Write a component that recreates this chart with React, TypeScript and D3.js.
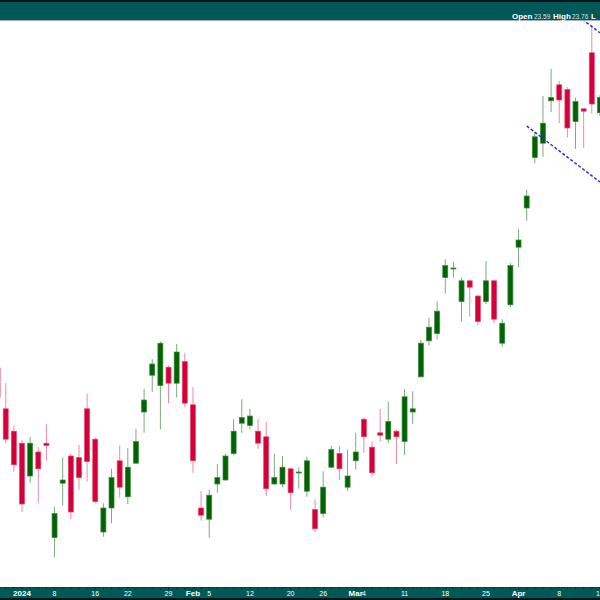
import React from "react";
import * as d3 from "d3";

const dates = [
  "2023-12-27","2023-12-28","2023-12-29",
  "2024-01-02","2024-01-03","2024-01-04","2024-01-05",
  "2024-01-08","2024-01-09","2024-01-10","2024-01-11","2024-01-12",
  "2024-01-16","2024-01-17","2024-01-18","2024-01-19",
  "2024-01-22","2024-01-23","2024-01-24","2024-01-25","2024-01-26",
  "2024-01-29","2024-01-30","2024-01-31","2024-02-01","2024-02-02",
  "2024-02-05","2024-02-06","2024-02-07","2024-02-08","2024-02-09",
  "2024-02-12","2024-02-13","2024-02-14","2024-02-15","2024-02-16",
  "2024-02-20","2024-02-21","2024-02-22","2024-02-23",
  "2024-02-26","2024-02-27","2024-02-28","2024-02-29","2024-03-01",
  "2024-03-04","2024-03-05","2024-03-06","2024-03-07","2024-03-08",
  "2024-03-11","2024-03-12","2024-03-13","2024-03-14","2024-03-15",
  "2024-03-18","2024-03-19","2024-03-20","2024-03-21","2024-03-22",
  "2024-03-25","2024-03-26","2024-03-27","2024-03-28",
  "2024-04-01","2024-04-02","2024-04-03","2024-04-04","2024-04-05",
  "2024-04-08","2024-04-09","2024-04-10","2024-04-11","2024-04-12",
  "2024-04-15",
];

const opens = [
  19.50,18.99,18.71,
  18.56,18.15,18.45,18.56,
  17.38,18.06,18.40,18.38,18.99,
  18.61,17.45,17.75,18.34,
  17.89,18.31,18.95,19.41,19.28,
  19.51,19.31,19.58,19.04,17.75,
  17.61,18.05,18.10,18.43,18.81,
  18.78,18.71,18.64,18.05,18.05,
  18.24,18.19,17.96,17.73,
  17.68,18.26,18.43,18.01,18.34,
  18.86,18.51,18.69,18.61,18.71,
  18.58,18.95,19.39,19.84,19.93,
  20.63,20.74,20.33,20.59,20.40,
  20.33,20.59,19.81,20.29,
  21.01,21.50,22.13,22.31,22.84,
  23.04,22.98,22.58,22.74,23.44,
  22.69,
];

const highs = [
  19.58,19.31,18.78,
  18.60,18.64,18.51,18.80,
  17.76,18.38,18.43,18.54,19.18,
  18.63,17.81,18.24,18.53,
  18.50,18.74,19.24,19.61,19.83,
  19.53,19.80,19.69,19.26,17.96,
  17.98,18.30,18.43,18.86,19.11,
  18.99,18.86,18.83,18.43,18.40,
  18.25,18.26,18.39,17.86,
  18.21,18.53,18.53,18.48,18.69,
  18.88,18.58,18.99,19.08,18.73,
  19.24,19.21,19.85,20.13,20.33,
  20.86,20.83,20.63,20.60,20.41,
  20.84,20.60,20.11,20.81,
  21.24,21.73,22.44,22.90,23.24,
  23.09,23.01,22.88,22.74,23.79,
  22.91,
];

const lows = [
  19.08,18.56,18.20,
  17.70,18.06,17.81,18.34,
  17.14,17.78,17.61,17.98,18.08,
  17.81,17.39,17.56,17.88,
  17.80,18.30,18.69,19.20,18.73,
  19.06,19.13,19.01,18.19,17.59,
  17.38,17.94,18.09,18.41,18.69,
  18.73,18.49,17.90,18.04,18.01,
  17.73,17.99,17.89,17.45,
  17.63,18.25,18.10,17.96,18.23,
  18.44,18.14,18.58,18.56,18.30,
  18.41,18.80,19.38,19.78,19.86,
  20.43,20.63,20.08,20.14,20.03,
  20.30,20.06,19.76,20.26,
  20.76,21.34,22.06,22.14,22.70,
  22.56,22.38,22.24,22.25,22.68,
  22.65,
];

const closes = [
  19.13,18.61,18.29,
  17.80,18.56,18.24,18.53,
  17.68,18.10,17.70,18.13,18.33,
  17.83,17.75,18.13,18.01,
  18.26,18.58,19.10,19.55,19.81,
  19.31,19.70,19.06,18.34,17.66,
  17.91,18.13,18.40,18.71,18.88,
  18.90,18.56,17.99,18.13,18.26,
  17.94,18.20,18.34,17.49,
  18.01,18.48,18.24,18.15,18.45,
  18.64,18.19,18.66,18.83,18.64,
  19.14,18.99,19.81,20.01,20.21,
  20.78,20.75,20.59,20.51,20.08,
  20.59,20.11,20.06,20.78,
  21.10,21.65,22.39,22.56,22.88,
  22.85,22.50,22.83,22.71,22.80,
  22.88,
];

const tickDates = [
  "2024-01-02","2024-01-08","2024-01-16","2024-01-22","2024-01-29",
  "2024-02-01","2024-02-05","2024-02-12","2024-02-20","2024-02-26",
  "2024-03-01","2024-03-04","2024-03-11","2024-03-18","2024-03-25",
  "2024-04-01","2024-04-08","2024-04-15",
];
const tickLabels = [
  "2024","8","16","22","29",
  "Feb","5","12","20","26",
  "Mar","4","11","18","25",
  "Apr","8","15",
];
const boldLabels = ["2024","Feb","Mar","Apr"];

// trend channel lines: [date, price] endpoints
const channelLower = [["2024-04-02", 22.525], ["2024-04-15", 21.825]];
const channelUpper = [["2024-04-02", 24.39], ["2024-04-15", 23.69]];

const headerLabels = ["Open", "High", "L"];
const headerValues = ["23.59", "23.76", ""];

const W = 600;
const H = 600;
const TEAL = "#005858";

export default function App() {
  const x = d3
    .scalePoint<string>()
    .domain(dates)
    .range([-2.42, 599.94]);
  const y = d3.scaleLinear().domain([16.7625, 23.8375]).range([587, 21]);

  const bodyW = 5;
  const candles = dates.map((d, i) => {
    const o = opens[i], c = closes[i], h = highs[i], l = lows[i];
    const up = c >= o;
    const cx = x(d) as number;
    const top = y(Math.max(o, c));
    const bot = y(Math.min(o, c));
    return { d, cx, up, top, bot, hy: y(h), ly: y(l) };
  });

  const lineGen = d3
    .line<any>()
    .x((p) => x(p[0]) as number)
    .y((p) => y(p[1]));

  const font = "'Liberation Sans', Arial, sans-serif";

  // header text positions
  const labelX = [512, 553, 591];
  const valueX = [534, 572, 0];

  return (
    <svg
      width={W}
      height={H}
      style={{ position: "absolute", left: 0, top: 0, background: "#fff" }}
    >
      <rect x={0} y={0} width={W} height={H} fill="#ffffff" />

      {/* candles */}
      <g>
        {candles.map((c) => (
          <g key={c.d}>
            <line
              x1={c.cx}
              x2={c.cx}
              y1={c.hy}
              y2={c.ly}
              stroke={c.up ? "#7fa97f" : "#f08aa2"}
              strokeWidth={1}
            />
            <rect
              x={c.cx - bodyW / 2}
              y={c.top}
              width={bodyW}
              height={Math.max(1, c.bot - c.top)}
              fill={c.up ? "#006400" : "#d4003a"}
              stroke={c.up ? "#3f873f" : "#e4456a"}
              strokeWidth={0.7}
            />
          </g>
        ))}
      </g>

      {/* channel lines */}
      <path d={lineGen(channelLower as any) || ""} fill="none" stroke="#1f1fff" strokeWidth={1.4} strokeDasharray="3,2" />
      <path d={lineGen(channelUpper as any) || ""} fill="none" stroke="#1f1fff" strokeWidth={1.4} strokeDasharray="3,2" />

      {/* header */}
      <rect x={0} y={0} width={W} height={20} fill={TEAL} />
      <rect x={0} y={0} width={W} height={2} fill="#0a1414" />
      <line x1={0} x2={W} y1={20.5} y2={20.5} stroke="#9fb4c0" strokeWidth={1} />
      {headerLabels.map((lab, k) => (
        <g key={"h" + k}>
          <text x={labelX[k]} y={18.5} fontSize={8} fontWeight="bold" fill="#ffffff" fontFamily={font}>
            {lab}
          </text>
          {headerValues[k] ? (
            <text x={valueX[k]} y={18.5} fontSize={6.5} fill="#d6e4e4" fontFamily={font}>
              {headerValues[k]}
            </text>
          ) : null}
        </g>
      ))}

      {/* bottom axis bar */}
      <rect x={0} y={587} width={W} height={11} fill={TEAL} />
      <rect x={0} y={598} width={W} height={2} fill="#0a1414" />
      <line x1={0} x2={W} y1={587.5} y2={587.5} stroke="#163a4a" strokeWidth={1} />
      {dates.map((d) => (
        <line
          key={"t" + d}
          x1={x(d) as number}
          x2={x(d) as number}
          y1={587}
          y2={589.5}
          stroke="#10303c"
          strokeWidth={1}
        />
      ))}
      {tickDates.map((d, i) => {
        const b = boldLabels.includes(tickLabels[i]);
        return (
          <text
            key={"lab" + i}
            x={x(d) as number}
            y={596}
            textAnchor="middle"
            fontSize={b ? 8 : 7}
            fontWeight={b ? "bold" : "normal"}
            fill="#ffffff"
            fontFamily={font}
          >
            {tickLabels[i]}
          </text>
        );
      })}
    </svg>
  );
}
